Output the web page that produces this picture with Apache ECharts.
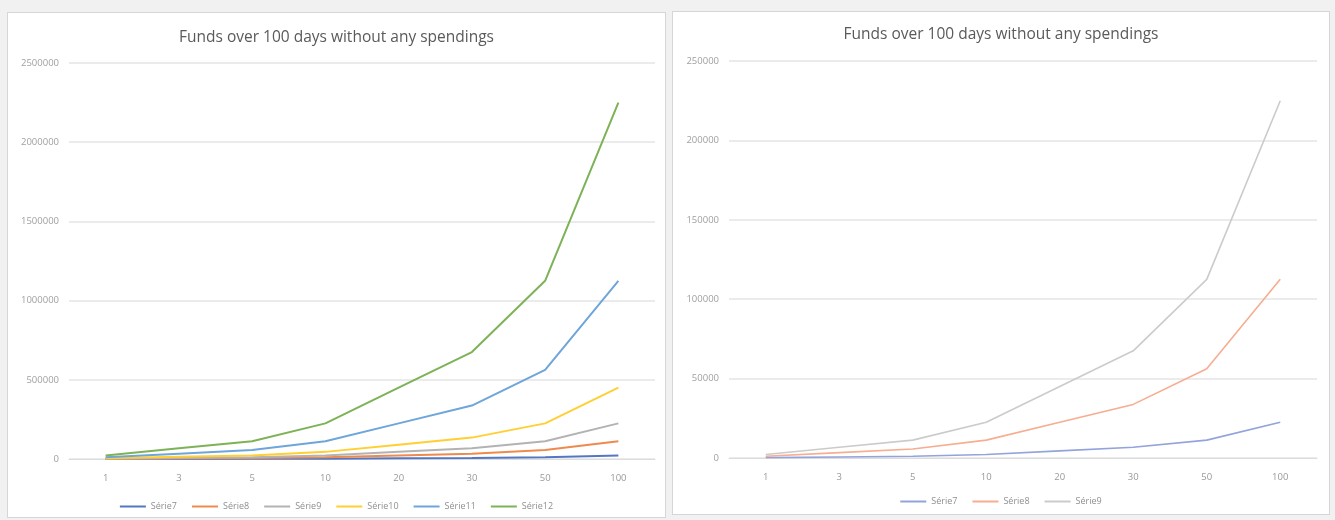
<!DOCTYPE html>
<html>
<head>
<meta charset="utf-8">
<script src="https://cdn.jsdelivr.net/npm/echarts@6/dist/echarts.min.js"></script>
<style>
  body { margin: 0; width: 1335px; height: 520px; background: #f1f1f1; position: relative; overflow: hidden; }
  .panel { position: absolute; background: #ffffff; border: 1px solid #d6d6d6; box-sizing: border-box; }
  #left { left: 7px; top: 12px; width: 659px; height: 506px; }
  #right { left: 672px; top: 11px; width: 658px; height: 504px; }
</style>
</head>
<body>
<div id="left" class="panel"></div>
<div id="right" class="panel"></div>
<script>
// days on the x axis
const days = ['1', '3', '5', '10', '20', '30', '50', '100'];

const serie7 = [225, 675, 1125, 2250, 4500, 6750, 11250, 22500];
const serie8 = [1125, 3375, 5625, 11250, 22500, 33750, 56250, 112500];
const serie9 = [2250, 6750, 11250, 22500, 45000, 67500, 112500, 225000];
const serie10 = [4500, 13500, 22500, 45000, 90000, 135000, 225000, 450000];
const serie11 = [11250, 33750, 56250, 112500, 225000, 337500, 562500, 1125000];
const serie12 = [22500, 67500, 112500, 225000, 450000, 675000, 1125000, 2250000];

const leftNames = ['Série7', 'Série8', 'Série9', 'Série10', 'Série11', 'Série12'];
const rightNames = ['Série7', 'Série8', 'Série9'];

const FONT = '"Open Sans", "Liberation Sans", sans-serif';

function makeOption(cfg) {
  return {
    animation: false,
    title: {
      text: 'Funds over 100 days without any spendings',
      left: 'center',
      top: cfg.titleTop,
      textStyle: { fontFamily: FONT, fontSize: 15.5, fontWeight: 'normal', color: '#5a5a5a' }
    },
    legend: {
      data: cfg.names,
      top: cfg.legendTop,
      left: 'center',
      icon: 'rect',
      itemWidth: 26,
      itemHeight: 2,
      itemGap: 15,
      textStyle: { fontFamily: FONT, fontSize: 9, color: '#8f8f8f' }
    },
    grid: cfg.grid,
    xAxis: {
      type: 'category',
      data: days,
      boundaryGap: true,
      axisLine: { lineStyle: { color: '#dcdcdc', width: 1 } },
      axisTick: { show: false },
      axisLabel: { fontFamily: FONT, fontSize: 9.5, color: '#999999', margin: 14 }
    },
    yAxis: {
      type: 'value',
      min: 0,
      max: cfg.max,
      interval: cfg.interval,
      axisLine: { show: false },
      axisTick: { show: false },
      splitLine: { lineStyle: { color: '#e4e4e4', width: 1.5 } },
      axisLabel: {
        fontFamily: FONT, fontSize: 9.5, color: '#a0a0a0', margin: 10,
        formatter: (v) => String(v)
      }
    },
    series: cfg.names.map((name, i) => ({
      name: name,
      type: 'line',
      data: cfg.data[i],
      symbol: 'none',
      lineStyle: { width: cfg.lineWidth, color: cfg.colors[i] },
      itemStyle: { color: cfg.colors[i] }
    }))
  };
}

const leftChart = echarts.init(document.getElementById('left'), null, { renderer: 'canvas' });
leftChart.setOption(makeOption({
  names: leftNames,
  data: [serie7, serie8, serie9, serie10, serie11, serie12],
  colors: ['#5477c4', '#ee8a4e', '#b3b3b3', '#ffcf33', '#6ea5da', '#7db257'],
  max: 2500000,
  interval: 500000,
  lineWidth: 2,
  titleTop: 12,
  legendTop: 484,
  grid: { left: 61, right: 10, top: 50, bottom: 58 }
}));

const rightChart = echarts.init(document.getElementById('right'), null, { renderer: 'canvas' });
rightChart.setOption(makeOption({
  names: rightNames,
  data: [serie7, serie8, serie9],
  colors: ['#93a3dc', '#f6ad90', '#cbcbcb'],
  max: 250000,
  interval: 50000,
  lineWidth: 1.6,
  titleTop: 10,
  legendTop: 480,
  grid: { left: 56, right: 12, top: 49, bottom: 56 }
}));
</script>
</body>
</html>
